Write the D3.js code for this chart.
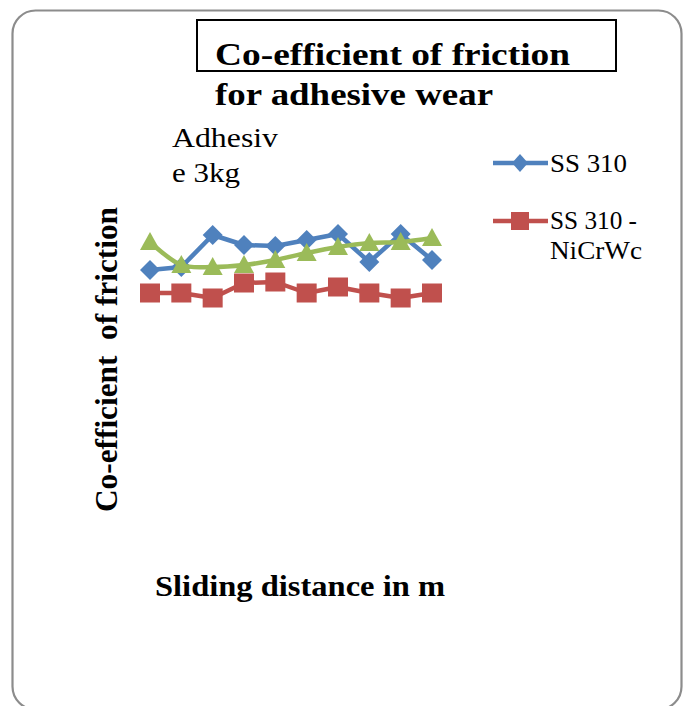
<!DOCTYPE html>
<html>
<head>
<meta charset="utf-8">
<script src="https://cdn.jsdelivr.net/npm/d3@7"></script>
<style>
  html, body { margin: 0; padding: 0; background: #fff; }
  svg { display: block; }
</style>
</head>
<body>
<svg id="chart" width="699" height="706" font-family="Liberation Serif, Times New Roman, serif"></svg>
<script>
// Sample points along the sliding distance (index of each reading)
const points = [1, 2, 3, 4, 5, 6, 7, 8, 9, 10];

// Coefficient of friction readings
const ss310 = [0.625, 0.6325, 0.7125, 0.6875, 0.685, 0.70, 0.715, 0.645, 0.715, 0.65];
const ss310NiCrWc = [0.5675, 0.5675, 0.555, 0.5925, 0.595, 0.5675, 0.5825, 0.5675, 0.555, 0.5675];
const series3 = [0.695, 0.6375, 0.6325, 0.6375, 0.65, 0.6675, 0.6825, 0.6925, 0.695, 0.705];

const seriesNames = ["SS 310", "SS 310 -\nNiCrWc"];

const svg = d3.select("#chart");

// Outer chart frame with rounded corners
svg.append("rect")
  .attr("x", 12.5).attr("y", 10.5)
  .attr("width", 669).attr("height", 699)
  .attr("rx", 23).attr("ry", 23)
  .attr("fill", "#fff")
  .attr("stroke", "#8c8c8c")
  .attr("stroke-width", 2.2);

// Scales (axes themselves are hidden)
const x = d3.scalePoint().domain(points).range([150, 432]);
const y = d3.scaleLinear().domain([0, 1]).range([520, 120]);

const line = d3.line().x((d, i) => x(points[i])).y(d => y(d));
const smooth = d3.line().x((d, i) => x(points[i])).y(d => y(d)).curve(d3.curveCatmullRom.alpha(0.5));

const colors = { blue: "#4f81bd", red: "#c0504d", green: "#9bbb59" };

// SS 310 (blue, diamonds)
svg.append("path").datum(ss310)
  .attr("d", line).attr("fill", "none")
  .attr("stroke", colors.blue).attr("stroke-width", 4.5).attr("stroke-linejoin", "round");
svg.append("g").selectAll("path").data(ss310).join("path")
  .attr("transform", (d, i) => `translate(${x(points[i])},${y(d)})`)
  .attr("d", "M0,-10L10,0L0,10L-10,0Z")
  .attr("fill", colors.blue);

// SS 310 - NiCrWc (red, squares)
svg.append("path").datum(ss310NiCrWc)
  .attr("d", line).attr("fill", "none")
  .attr("stroke", colors.red).attr("stroke-width", 4.5).attr("stroke-linejoin", "round");
svg.append("g").selectAll("rect").data(ss310NiCrWc).join("rect")
  .attr("x", (d, i) => x(points[i]) - 10)
  .attr("y", d => y(d) - 9.5)
  .attr("width", 20).attr("height", 19)
  .attr("fill", colors.red);

// Third series (green, triangles, smoothed)
svg.append("path").datum(series3)
  .attr("d", smooth).attr("fill", "none")
  .attr("stroke", colors.green).attr("stroke-width", 4.5);
svg.append("g").selectAll("path").data(series3).join("path")
  .attr("transform", (d, i) => `translate(${x(points[i])},${y(d)})`)
  .attr("d", "M0,-10L10,8L-10,8Z")
  .attr("fill", colors.green);

// Helper for text stretched to a given width
function label(px, py, str, size, bold, len) {
  return svg.append("text")
    .attr("x", px).attr("y", py)
    .attr("font-size", size)
    .attr("font-weight", bold ? "bold" : "normal")
    .attr("textLength", len)
    .attr("lengthAdjust", "spacingAndGlyphs")
    .attr("fill", "#000")
    .text(str);
}

// Title box
svg.append("rect")
  .attr("x", 197).attr("y", 20)
  .attr("width", 419).attr("height", 51)
  .attr("fill", "none").attr("stroke", "#000").attr("stroke-width", 2);

label(215, 65, "Co-efficient of friction", 32, true, 355);
label(215, 105, "for adhesive wear", 32, true, 278);

// Load annotation
label(172, 147, "Adhesiv", 28, false, 106);
label(172, 182, "e 3kg", 28, false, 68);

// Axis titles
svg.append("text")
  .attr("transform", "translate(117,512) rotate(-90)")
  .attr("font-size", 31).attr("font-weight", "bold")
  .attr("textLength", 305).attr("lengthAdjust", "spacingAndGlyphs")
  .attr("xml:space", "preserve")
  .text("Co-efficient  of friction");

label(155, 596, "Sliding distance in m", 30, true, 290);

// Legend
const legend = svg.append("g");
const legendItems = [
  { name: seriesNames[0], color: colors.blue, shape: "diamond", ly: 163, ty: 172, lens: [77] },
  { name: seriesNames[1], color: colors.red, shape: "square", ly: 221, ty: 229, lens: [87, 92] }
];
legendItems.forEach(item => {
  legend.append("line")
    .attr("x1", 493).attr("x2", 548)
    .attr("y1", item.ly).attr("y2", item.ly)
    .attr("stroke", item.color).attr("stroke-width", 4.5);
  if (item.shape === "diamond") {
    legend.append("path")
      .attr("transform", `translate(520,${item.ly})`)
      .attr("d", "M0,-9L8,0L0,9L-8,0Z").attr("fill", item.color);
  } else {
    legend.append("rect")
      .attr("x", 511).attr("y", item.ly - 9)
      .attr("width", 18).attr("height", 18).attr("fill", item.color);
  }
  item.name.split("\n").forEach((s, k) => {
    legend.append("text")
      .attr("x", 550).attr("y", item.ty + k * 30)
      .attr("font-size", 25)
      .attr("textLength", item.lens[k]).attr("lengthAdjust", "spacingAndGlyphs")
      .attr("fill", "#000")
      .text(s);
  });
});
</script>
</body>
</html>
